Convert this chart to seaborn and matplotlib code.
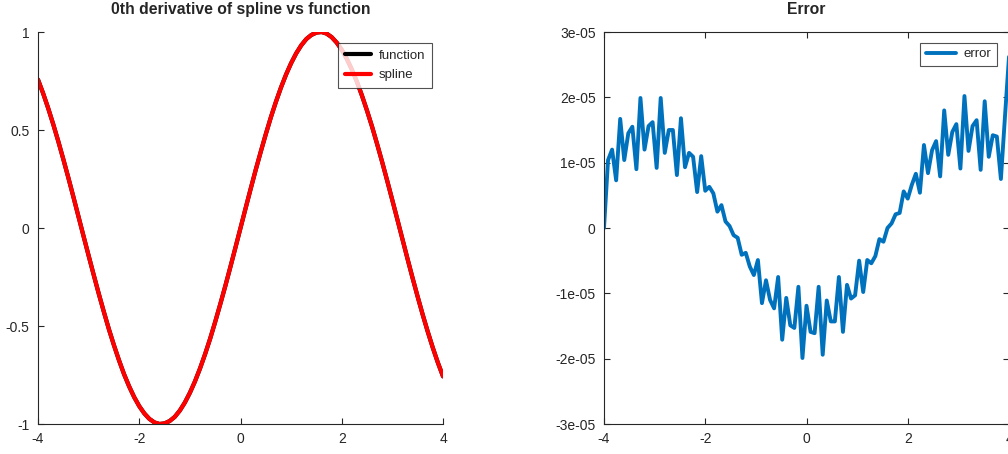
import numpy as np
import pandas as pd
import matplotlib
matplotlib.use("Agg")
import matplotlib.pyplot as plt
import seaborn as sns

sns.set_style("white")
plt.rcParams['font.family'] = ['Liberation Sans', 'DejaVu Sans']

# ---- data ----
x_func = [round(-4 + 0.1 * i, 1) for i in range(81)]
func_vals = [
    0.757, 0.688, 0.612, 0.530, 0.443, 0.351, 0.256, 0.158, 0.058, -0.042,
    -0.141, -0.239, -0.335, -0.427, -0.516, -0.598, -0.675, -0.746, -0.808, -0.863,
    -0.909, -0.946, -0.974, -0.992, -1.000, -0.997, -0.985, -0.964, -0.932, -0.891,
    -0.841, -0.783, -0.717, -0.644, -0.565, -0.479, -0.389, -0.296, -0.199, -0.100,
    0.000,
    0.100, 0.199, 0.296, 0.389, 0.479, 0.565, 0.644, 0.717, 0.783, 0.841,
    0.891, 0.932, 0.964, 0.985, 0.997, 1.000, 0.992, 0.974, 0.946, 0.909,
    0.863, 0.808, 0.746, 0.675, 0.598, 0.516, 0.427, 0.335, 0.239, 0.141,
    0.042, -0.058, -0.158, -0.256, -0.351, -0.443, -0.530, -0.612, -0.688, -0.757,
]
spline_vals = list(func_vals)

x_err = [round(-4 + 0.08 * i, 2) for i in range(101)]
err_e5 = [
    0.00, 1.04, 1.20, 0.73, 1.67, 1.04, 1.45, 1.55, 0.90, 1.99,
    1.20, 1.56, 1.62, 0.92, 1.99, 1.15, 1.50, 1.50, 0.81, 1.68,
    0.93, 1.15, 1.09, 0.55, 1.10, 0.57, 0.63, 0.53, 0.25, 0.35,
    0.10, 0.03, -0.11, -0.15, -0.41, -0.38, -0.59, -0.72, -0.49, -1.15,
    -0.80, -1.10, -1.23, -0.75, -1.71, -1.07, -1.49, -1.53, -0.90, -1.99,
    -1.19, -1.59, -1.61, -0.90, -1.94, -1.11, -1.43, -1.43, -0.75, -1.59,
    -0.87, -1.08, -1.03, -0.50, -0.98, -0.49, -0.54, -0.43, -0.17, -0.21,
    0.00, 0.07, 0.21, 0.23, 0.56, 0.45, 0.66, 0.83, 0.54, 1.27,
    0.84, 1.19, 1.33, 0.79, 1.80, 1.12, 1.47, 1.59, 0.91, 2.02,
    1.18, 1.56, 1.65, 0.89, 1.94, 1.09, 1.42, 1.40, 0.75, 1.70,
    2.62,
]
err_vals = [v * 1e-5 for v in err_e5]

left_xticks = [-4, -2, 0, 2, 4]
left_yticks = [-1, -0.5, 0, 0.5, 1]
left_ylabels = ["-1", "-0.5", "0", "0.5", "1"]
right_yticks = [-3e-5, -2e-5, -1e-5, 0, 1e-5, 2e-5, 3e-5]
right_ylabels = ["-3e-05", "-2e-05", "-1e-05", "0", "1e-05", "2e-05", "3e-05"]
xtick_labels = ["-4", "-2", "0", "2", "4"]

df_l = pd.DataFrame({"x": x_func, "function": func_vals, "spline": spline_vals})
df_r = pd.DataFrame({"x": x_err, "error": err_vals})

fig = plt.figure(figsize=(10.08, 4.54), dpi=100)
ax1 = fig.add_axes([38 / 1008, 1 - 424 / 454, 405 / 1008, 392 / 454])
ax2 = fig.add_axes([604 / 1008, 1 - 424 / 454, 405 / 1008, 392 / 454])

sns.lineplot(data=df_l, x="x", y="function", ax=ax1, color="black", lw=3.0, label="function")
sns.lineplot(data=df_l, x="x", y="spline", ax=ax1, color="#ff0000", lw=3.0, label="spline")
sns.lineplot(data=df_r, x="x", y="error", ax=ax2, color="#0072BD", lw=2.8, label="error")

for ax in (ax1, ax2):
    ax.set_xlim(-4, 4)
    ax.set_xticks(left_xticks)
    ax.set_xticklabels(xtick_labels)
    ax.set_xlabel("")
    ax.set_ylabel("")
    for s in ax.spines.values():
        s.set_color("#262626")
        s.set_linewidth(0.8)

ax1.tick_params(direction="in", length=4, width=0.8, colors="#262626",
                labelsize=10, top=False, right=False, bottom=True, left=True, pad=6)
ax1.spines["top"].set_visible(False)
ax1.spines["right"].set_visible(False)
ax2.tick_params(direction="in", length=4, width=0.8, colors="#262626",
                labelsize=10, top=True, right=True, bottom=True, left=True, pad=6)

ax1.set_ylim(-1, 1)
ax1.set_yticks(left_yticks)
ax1.set_yticklabels(left_ylabels)
ax2.set_ylim(-3e-5, 3e-5)
ax2.set_yticks(right_yticks)
ax2.set_yticklabels(right_ylabels)

ax1.set_title("0th derivative of spline vs function", fontsize=11.3, fontweight="bold", pad=13)
ax2.set_title("Error", fontsize=11.3, fontweight="bold", pad=13)

leg1 = ax1.legend(loc="upper right", fontsize=9.5, frameon=True, fancybox=False,
                  handlelength=2.0, borderaxespad=0.0, borderpad=0.5,
                  labelspacing=0.55, handletextpad=0.6, bbox_to_anchor=(0.973, 0.972))
leg2 = ax2.legend(loc="upper right", fontsize=9.5, frameon=True, fancybox=False,
                  handlelength=2.3, borderaxespad=0.0, borderpad=0.4,
                  labelspacing=0.3, handletextpad=0.6, bbox_to_anchor=(0.970, 0.972))
for leg in (leg1, leg2):
    leg.get_frame().set_edgecolor("#262626")
    leg.get_frame().set_linewidth(0.8)

fig.savefig("out.png", dpi=100, facecolor="white")
